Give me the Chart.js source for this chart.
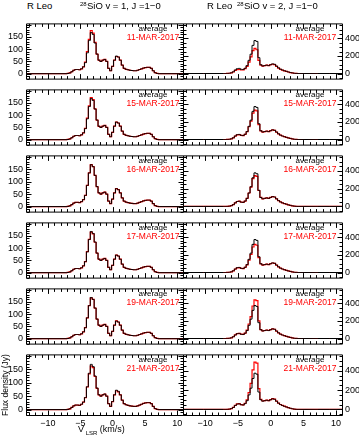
<!DOCTYPE html>
<html><head><meta charset="utf-8">
<script src="https://cdn.jsdelivr.net/npm/chart.js@4.4.0/dist/chart.umd.min.js"></script>
<style>
body{margin:0;width:359px;height:436px;background:#fff;position:relative;overflow:hidden;font-family:"Liberation Sans",Arial,sans-serif}
canvas{position:absolute;background:transparent}
.t{position:absolute;font-size:9px;white-space:nowrap;line-height:10px;color:#000;z-index:5}
.c{transform:translateX(-50%)}
.red{color:#ff0000}
</style></head><body>
<div id="wrap"></div>
<div class="t" style="left:27px;top:1px;font-size:9.5px">R Leo</div>
<div class="t" style="left:80px;top:-1px;font-size:6px">28</div>
<div class="t" style="left:87px;top:1px;font-size:9.5px">SiO v = 1, J =1−0</div>
<div class="t" style="left:207px;top:1px;font-size:9.5px">R Leo</div>
<div class="t" style="left:237px;top:-1px;font-size:6px">28</div>
<div class="t" style="left:244px;top:1px;font-size:9.5px">SiO v = 2, J =1−0</div>
<div class="t" style="left:-30px;top:380px;width:70px;text-align:center;transform:rotate(-90deg);font-size:8.5px">Flux density (Jy)</div>
<div class="t" style="left:78px;top:424px;font-size:9px">V<span style="font-size:6px;position:relative;top:3px"> LSR</span> (km/s)</div>
<script>
// ---- data ----
const dates = ['11-MAR-2017','15-MAR-2017','16-MAR-2017','17-MAR-2017','19-MAR-2017','21-MAR-2017'];
const velocity = [-13.4,-7.2,-6.9,-6.6,-6.3,-6.0,-5.7,-5.4,-5.1,-4.8,-4.5,-4.2,-3.9,-3.6,-3.3,-3.0,-2.7,-2.4,-2.1,-1.8,-1.5,-1.2,-0.9,-0.6,-0.3,0,0.3,0.6,0.9,1.2,1.5,1.8,2.1,2.4,2.7,3.0,3.3,3.6,3.9,4.2,4.5,4.8,5.1,5.4,5.7,6.0,6.3,6.6,6.9,7.2,10.9];
// SiO v=1 (left column)
const avgV1 = [0,0,1,3,8,14,17,17,16,20,28,45,85,135,168,160,125,80,55,50,55,58,50,22,12,30,55,72,68,55,35,22,18,16,14,13,12,12,14,17,20,23,25,26,26,22,12,4,1,0,0];
const v1_11 = [0,0,1,3,8,14,17,17,16,20,28,47,90,140,176,165,128,80,55,50,55,58,50,22,12,30,55,70,68,55,35,22,18,16,14,13,12,12,14,17,20,23,25,26,26,22,12,4,1,0,0];
const v1_15 = [0,0,1,3,8,14,17,17,16,20,28,46,88,138,172,163,126,80,54,50,55,58,50,22,12,30,55,72,68,55,35,22,18,16,14,13,12,12,14,17,20,23,25,26,26,22,12,4,1,0,0];
const v1_16 = [0,0,1,3,8,14,17,17,16,20,28,45,85,135,168,160,125,80,55,50,55,58,50,22,12,30,55,72,68,55,35,22,18,16,14,13,12,12,14,17,20,23,25,26,26,22,12,4,1,0,0];
const v1_17 = [0,0,1,3,8,14,17,17,16,20,28,45,86,136,165,158,124,80,55,50,55,58,50,22,12,30,55,72,68,55,35,22,18,16,14,13,12,12,14,17,20,23,25,26,26,22,12,4,1,0,0];
const v1_19 = [0,0,1,3,8,14,17,17,16,20,28,45,85,135,166,160,125,80,55,50,55,58,50,22,12,30,55,73,68,55,35,22,18,16,14,13,12,12,14,17,20,23,25,26,26,22,12,4,1,0,0];
const v1_21 = [0,0,1,3,8,14,17,17,16,20,28,44,84,133,162,156,123,79,55,50,55,58,50,22,12,30,55,70,66,55,35,22,18,16,14,13,12,12,14,17,20,23,25,26,26,22,12,4,1,0,0];
// SiO v=2 (right column)
const avgV2 = [0,0,0,1,3,8,20,40,55,58,48,45,60,90,150,220,320,375,365,180,100,85,90,95,90,100,110,105,85,65,50,40,32,25,18,12,7,3,1,0,0,0,0,0,0,0,0,0,0,0,0];
const v2_11 = [0,0,0,1,3,7,17,35,45,48,40,40,55,80,130,190,260,285,270,150,95,85,90,95,90,100,105,100,82,62,48,38,30,24,17,11,6,3,1,0,0,0,0,0,0,0,0,0,0,0,0];
const v2_15 = [0,0,0,1,3,8,19,38,52,55,46,44,58,88,145,210,300,335,325,170,98,85,90,95,90,100,110,104,84,64,50,40,32,25,18,12,7,3,1,0,0,0,0,0,0,0,0,0,0,0,0];
const v2_16 = [0,0,0,1,3,8,20,40,55,58,48,45,60,90,150,215,310,345,335,178,100,85,90,95,90,100,110,105,85,65,50,40,32,25,18,12,7,3,1,0,0,0,0,0,0,0,0,0,0,0,0];
const v2_17 = [0,0,0,1,3,8,19,38,52,56,47,44,58,86,140,205,290,320,310,170,98,85,90,95,90,100,108,103,84,64,50,40,32,25,18,12,7,3,1,0,0,0,0,0,0,0,0,0,0,0,0];
const v2_19 = [0,0,0,1,3,8,20,41,56,59,49,46,62,95,165,250,370,440,430,200,102,86,91,96,91,101,110,105,85,65,50,40,32,25,18,12,7,3,1,0,0,0,0,0,0,0,0,0,0,0,0];
const v2_21 = [0,0,0,1,3,8,21,42,58,60,50,47,64,98,175,270,410,490,480,215,104,87,92,97,92,102,112,106,86,66,51,41,33,26,18,12,7,3,1,0,0,0,0,0,0,0,0,0,0,0,0];
const redV1 = [v1_11,v1_15,v1_16,v1_17,v1_19,v1_21];
const redV2 = [v2_11,v2_15,v2_16,v2_17,v2_19,v2_21];
const xTicks = [-10,-5,0,5,10];
const yTicksV1 = [0,50,100,150];
const yTicksV2 = [0,200,400];

// ---- layout ----
const rowTops = [18,84,150,217,283,349,415];
const cols = [
  {plotL:26, plotR:183, canL:0, canW:186, yMin:-20, yMax:205, yMajor:50, yMinor:10, pos:'left', yTicks:yTicksV1, avg:avgV1, red:redV1, lx:153},
  {plotL:183, plotR:342, canL:180, canW:179, yMin:-58, yMax:570, yMajor:200, yMinor:50, pos:'right', yTicks:yTicksV2, avg:avgV2, red:redV2, lx:310}
];

function makeFrame(yMajor, yMinor){
  return {
    id:'frame',
    afterDatasetsDraw(chart){
      const {ctx, chartArea:a, scales:{x,y}} = chart;
      ctx.save();
      ctx.strokeStyle='#000'; ctx.lineWidth=1;
      const L=a.left+0.5, R=a.right+0.5, T=a.top+0.5, B=a.bottom+0.5;
      ctx.beginPath();
      ctx.rect(L,T,R-L,B-T);
      for(let v=Math.ceil(x.min); v<=x.max; v++){
        const px=Math.round(x.getPixelForValue(v))+0.5;
        const len = v%5===0?5:3;
        ctx.moveTo(px,B); ctx.lineTo(px,B-len);
        ctx.moveTo(px,T); ctx.lineTo(px,T+len);
      }
      for(let v=Math.ceil(y.min/yMinor)*yMinor; v<=y.max; v+=yMinor){
        const py=Math.round(y.getPixelForValue(v))+0.5;
        const len = v%yMajor===0?5:3;
        ctx.moveTo(L,py); ctx.lineTo(L+len,py);
        ctx.moveTo(R,py); ctx.lineTo(R-len,py);
      }
      ctx.stroke();
      ctx.restore();
    }
  };
}

const wrap = document.getElementById('wrap');
const minus = v => String(v).replace('-','−');
cols.forEach((c,ci)=>{
  for(let r=0;r<6;r++){
    const last = r===5;
    const PT=rowTops[r], PB=rowTops[r+1];
    const cv=document.createElement('canvas');
    const cTop=PT-3, cH=(PB-PT)+3+(last?21:3);
    cv.width=c.canW; cv.height=cH;
    cv.style.left=c.canL+'px'; cv.style.top=cTop+'px';
    cv.style.width=c.canW+'px'; cv.style.height=cH+'px';
    wrap.appendChild(cv);
    const yW = c.pos==='left' ? c.plotL-c.canL : c.canL+c.canW-c.plotR;
    new Chart(cv,{
      type:'line',
      data:{datasets:[
        {label:'average', data:velocity.map((v,i)=>({x:v,y:c.avg[i]})), borderColor:'#000', borderWidth:1, stepped:'middle', pointRadius:0, fill:false},
        {label:dates[r], data:velocity.map((v,i)=>({x:v,y:c.red[r][i]})), borderColor:'#ff0000', borderWidth:1.2, stepped:'middle', pointRadius:0, fill:false}
      ]},
      options:{
        responsive:false, animation:false, devicePixelRatio:1,
        layout:{autoPadding:false, padding:{top:3, bottom:last?0:3, left:c.pos==='right'?3:0, right:c.pos==='left'?3:0}},
        plugins:{legend:{display:false}, tooltip:{enabled:false}},
        scales:{
          x:{type:'linear', min:-13.4, max:10.9, grid:{display:false, drawTicks:false, tickLength:0}, border:{display:false},
             afterBuildTicks:s=>{s.ticks=xTicks.map(v=>({value:v}));},
             afterFit:s=>{s.height= last?21:0;},
             ticks:{display:last, padding:3, color:'#000', font:{family:'Liberation Sans', size:9}, maxRotation:0, autoSkip:false, callback:v=>minus(v)}},
          y:{type:'linear', position:c.pos, min:c.yMin, max:c.yMax, grid:{display:false, drawTicks:false, tickLength:0}, border:{display:false},
             afterBuildTicks:s=>{s.ticks=c.yTicks.map(v=>({value:v}));},
             afterFit:s=>{s.width=yW;},
             ticks:{padding:3, color:'#000', font:{family:'Liberation Sans', size:9}, autoSkip:false, callback:v=>String(v)}}
        }
      },
      plugins:[makeFrame(c.yMajor, c.yMinor)]
    });
    const a=document.createElement('div'); a.className='t c'; a.textContent='average';
    a.style.left=c.lx+'px'; a.style.top=(PT+6)+'px'; a.style.fontSize='8px'; wrap.appendChild(a);
    const d=document.createElement('div'); d.className='t c red'; d.textContent=dates[r];
    d.style.left=c.lx+'px'; d.style.top=(PT+14)+'px'; d.style.fontSize='8.5px'; wrap.appendChild(d);
  }
});
</script>
</body></html>
